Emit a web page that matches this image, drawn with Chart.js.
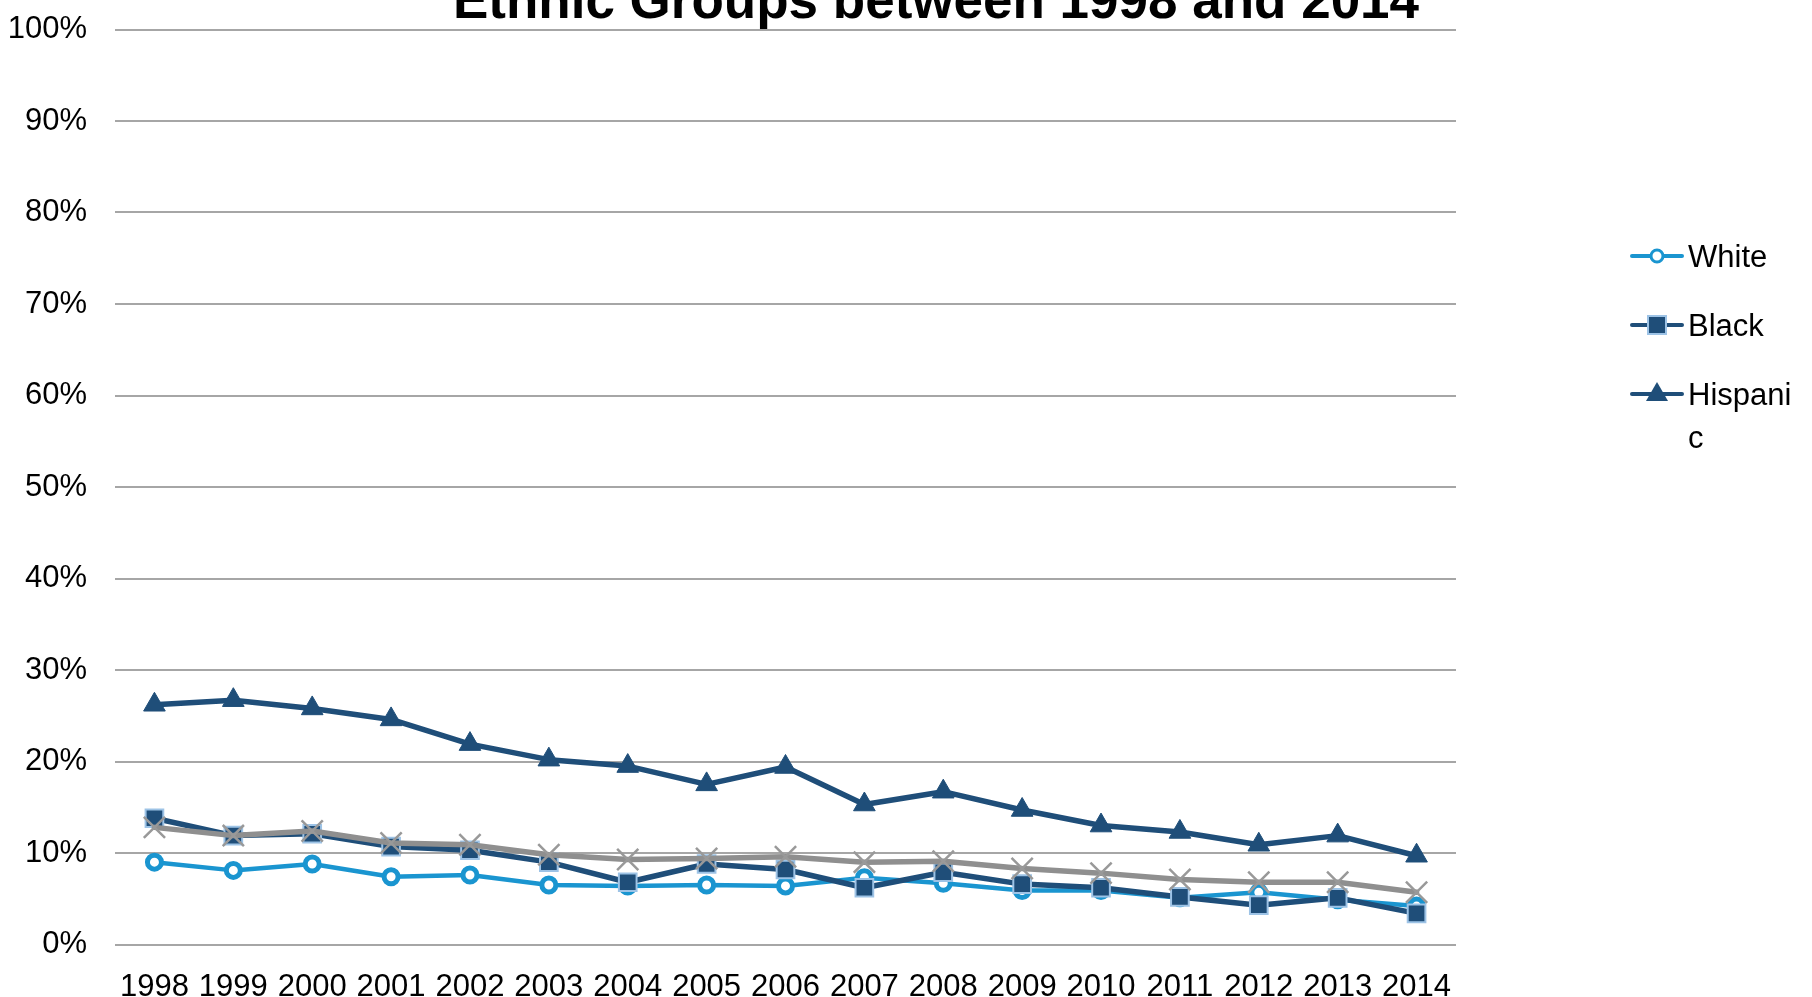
<!DOCTYPE html>
<html>
<head>
<meta charset="utf-8">
<script src="https://cdn.jsdelivr.net/npm/chart.js@4.4.1/dist/chart.umd.min.js"></script>
<style>
    html, body { margin: 0; padding: 0; background: #fff; }
    #wrap { position: relative; width: 1812px; height: 997px; }
</style>
</head>
<body>
<div id="wrap"><canvas id="ethnicChart" width="1812" height="997"></canvas></div>
<script>
// data (percent)
const years = ["1998", "1999", "2000", "2001", "2002", "2003", "2004", "2005", "2006",
    "2007", "2008", "2009", "2010", "2011", "2012", "2013", "2014"];
const whiteValues = [9.0, 8.1, 8.8, 7.4, 7.6, 6.5, 6.4, 6.5, 6.4, 7.3, 6.7, 5.9, 5.9, 5.1, 5.7, 4.9, 4.2];
const blackValues = [13.8, 11.9, 12.1, 10.7, 10.3, 9.0, 6.8, 8.8, 8.2, 6.2, 7.9, 6.6, 6.2, 5.2, 4.3, 5.1, 3.4];
const hispanicValues = [26.2, 26.7, 25.8, 24.6, 21.9, 20.2, 19.5, 17.5, 19.4, 15.3, 16.7, 14.7, 13.0, 12.3, 10.9, 11.9, 9.7];
const totalValues = [12.8, 11.9, 12.4, 11.1, 10.9, 9.8, 9.3, 9.4, 9.6, 9.0, 9.1, 8.3, 7.8, 7.1, 6.8, 6.8, 5.7];
const yTicks = [0, 10, 20, 30, 40, 50, 60, 70, 80, 90, 100];
const legendNames = ["White", "Black", "Hispanic"];
const chartTitle = "Ethnic Groups between 1998 and 2014";

const FONT = '"Liberation Sans", Arial, sans-serif';
const WHITE_C = "#1a95d0";
const NAVY = "#1f4e79";
const GRAY = "#8f8f8f";

// legend + title drawn by hand so "Hispanic" wraps like the original
const extrasPlugin = {
    id: "extras",
    afterDraw(chart) {
        const ctx = chart.ctx;
        ctx.save();
        ctx.fillStyle = "#000";
        ctx.font = "bold 53px " + FONT;
        ctx.textAlign = "center";
        ctx.textBaseline = "alphabetic";
        ctx.fillText(chartTitle, 936, 18);

        ctx.font = "31px " + FONT;
        ctx.textAlign = "left";
        ctx.textBaseline = "middle";
        legendNames.forEach((name, i) => {
            const ds = chart.data.datasets.find((d) => d.label === name);
            const y = 256 + i * 69;
            ctx.strokeStyle = ds.borderColor;
            ctx.lineWidth = 4;
            ctx.lineCap = "round";
            ctx.beginPath();
            ctx.moveTo(1632, y);
            ctx.lineTo(1682, y);
            ctx.stroke();
            drawMarker(ctx, ds.pointStyle, 1657, y, ds);
            // wrap text by characters to the legend width
            const lines = [];
            let cur = "";
            for (const ch of name) {
                if (ctx.measureText(cur + ch).width > 112 && cur) {
                    lines.push(cur);
                    cur = ch;
                } else {
                    cur += ch;
                }
            }
            lines.push(cur);
            ctx.fillStyle = "#000";
            lines.forEach((ln, k) => ctx.fillText(ln, 1688, y + 2 + k * 43));
        });
        ctx.restore();
    },
};

function drawMarker(ctx, style, x, y, ds) {
    ctx.save();
    ctx.fillStyle = ds.pointBackgroundColor;
    ctx.strokeStyle = ds.pointBorderColor;
    ctx.lineWidth = 3;
    ctx.beginPath();
    if (style === "circle") {
        ctx.arc(x, y, 6, 0, Math.PI * 2);
        ctx.fill();
        ctx.stroke();
    } else if (style === "rect") {
        ctx.lineWidth = 2;
        ctx.rect(x - 9, y - 9, 18, 18);
        ctx.fill();
        ctx.stroke();
    } else if (style === "triangle") {
        ctx.moveTo(x, y - 12);
        ctx.lineTo(x + 11, y + 7);
        ctx.lineTo(x - 11, y + 7);
        ctx.closePath();
        ctx.fill();
    }
    ctx.restore();
}

const ctx = document.getElementById("ethnicChart").getContext("2d");
new Chart(ctx, {
    type: "line",
    data: {
        labels: years,
        datasets: [
            {
                label: "White",
                data: whiteValues,
                borderColor: WHITE_C,
                borderWidth: 4.5,
                pointStyle: "circle",
                pointRadius: 7,
                pointBorderWidth: 5,
                pointBackgroundColor: "#fff",
                pointBorderColor: WHITE_C,
                order: 4,
            },
            {
                label: "Black",
                data: blackValues,
                borderColor: NAVY,
                borderWidth: 5.5,
                pointStyle: "rect",
                pointRadius: 12.5,
                pointBorderWidth: 2,
                pointBackgroundColor: NAVY,
                pointBorderColor: "#9dc3e6",
                order: 3,
            },
            {
                label: "Hispanic",
                data: hispanicValues,
                borderColor: NAVY,
                borderWidth: 5.5,
                pointStyle: "triangle",
                pointRadius: 12.5,
                pointBorderWidth: 1,
                pointBackgroundColor: NAVY,
                pointBorderColor: NAVY,
                order: 2,
            },
            {
                label: "Total",
                data: totalValues,
                borderColor: GRAY,
                borderWidth: 5.5,
                pointStyle: "crossRot",
                pointRadius: 15,
                pointBorderWidth: 2.5,
                pointBackgroundColor: GRAY,
                pointBorderColor: "#999",
                order: 1,
            },
        ],
    },
    options: {
        responsive: false,
        animation: false,
        elements: {
            line: { tension: 0, borderJoinStyle: "round", borderCapStyle: "round", fill: false },
        },
        layout: { padding: { top: 29.5, right: 356, left: 0, bottom: 0 } },
        plugins: {
            legend: { display: false },
            title: { display: false },
            tooltip: { enabled: false },
        },
        scales: {
            x: {
                offset: true,
                grid: { display: false },
                border: { display: false },
                ticks: {
                    color: "#000",
                    font: { family: FONT, size: 31 },
                    padding: 16,
                    maxRotation: 0,
                    autoSkip: false,
                },
                afterFit: (scale) => {
                    scale.height = 52.5;
                    scale.paddingLeft = 0;
                    scale.paddingRight = 0;
                },
            },
            y: {
                min: 0,
                max: 100,
                afterBuildTicks: (scale) => { scale.ticks = yTicks.map((v) => ({ value: v })); },
                ticks: {
                    color: "#000",
                    font: { family: FONT, size: 31 },
                    padding: 28,
                    callback: (v) => v + "%",
                },
                grid: { color: "#a6a6a6", lineWidth: 2, drawTicks: false },
                border: { display: false },
                afterFit: (scale) => {
                    scale.width = 115;
                    // keep the label overhang from pushing the plot area in
                    scale.paddingTop = 0;
                    scale.paddingBottom = 0;
                },
            },
        },
    },
    plugins: [extrasPlugin],
});
</script>
</body>
</html>
